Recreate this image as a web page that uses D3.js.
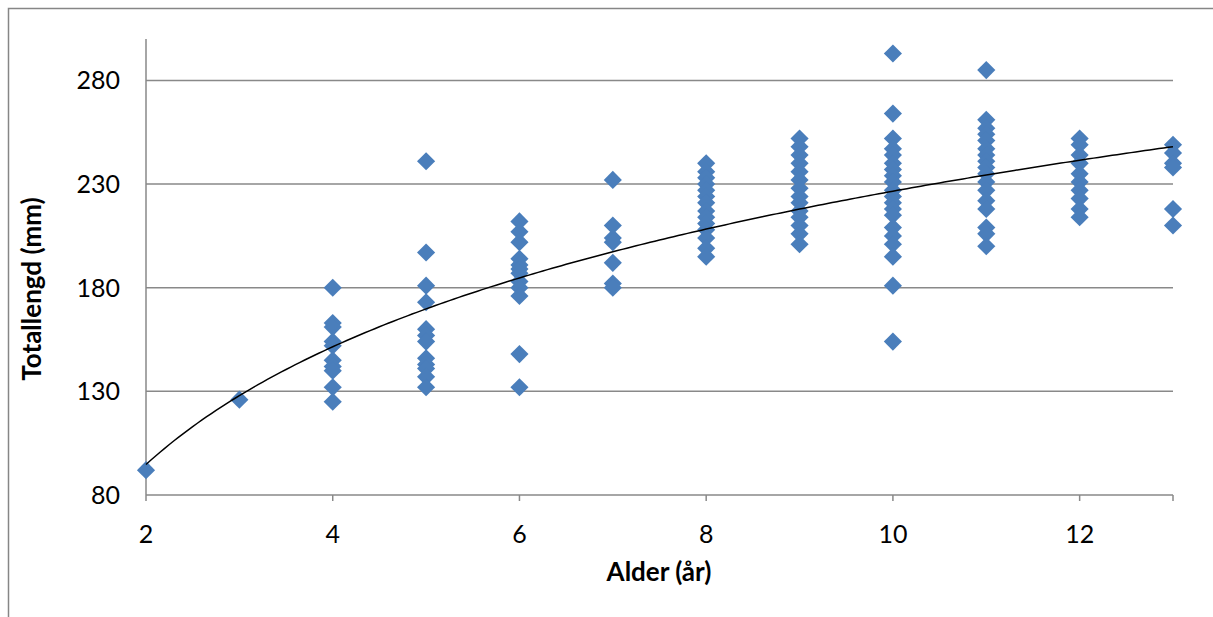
<!DOCTYPE html>
<html>
<head>
<meta charset="utf-8">
<script src="https://cdn.jsdelivr.net/npm/d3@7"></script>
<style>
  body { margin: 0; background: #fff; }
  svg text { font-family: Lato, 'Open Sans', sans-serif; fill: #000; }
</style>
</head>
<body>
<div id="chart"></div>
<script>
const ages = [2, 3, 4, 5, 6, 7, 8, 9, 10, 11, 12, 13]
const lengthsByAge = [
  [92],
  [126],
  [180, 163, 161, 154, 152, 145, 142, 140, 132, 125],
  [241, 197, 181, 173, 160, 157, 154, 146, 143, 141, 137, 132],
  [212, 207, 202, 194, 191, 189, 187, 183, 180, 176, 148, 132],
  [232, 210, 204, 202, 192, 182, 180],
  [240, 236, 233, 230, 227, 224, 221, 217, 214, 211, 208, 204, 199, 195],
  [252, 248, 244, 240, 236, 232, 228, 224, 221, 217, 214, 210, 206, 201],
  [293, 264, 252, 247, 244, 240, 237, 234, 231, 227, 224, 221, 218, 215, 209, 205, 201, 195, 181, 154],
  [285, 261, 257, 254, 251, 247, 244, 241, 238, 235, 231, 227, 222, 218, 209, 206, 200],
  [252, 249, 244, 240, 235, 231, 227, 223, 218, 214],
  [249, 245, 240, 238, 218, 210]
]
const xTicks = [2, 4, 6, 8, 10, 12]
const yTicks = [80, 130, 180, 230, 280]

const width = 1213
const height = 617
const margin = { left: 146, top: 39, right: 40, bottom: 122 }

const points = ages.flatMap((a, i) => lengthsByAge[i].map(v => ({ age: a, len: v })))

// logaritmisk trendlinje (minste kvadrat på ln(alder))
const lx = points.map(d => Math.log(d.age))
const mx = d3.mean(lx)
const my = d3.mean(points, d => d.len)
const b = d3.sum(points, (d, i) => (lx[i] - mx) * (d.len - my)) / d3.sum(lx, v => (v - mx) ** 2)
const a = my - b * mx

const svg = d3.select('#chart').append('svg')
  .attr('width', width)
  .attr('height', height)

// ytre ramme
svg.append('rect')
  .attr('x', 8.5).attr('y', 8.5)
  .attr('width', width + 20).attr('height', height + 20)
  .attr('fill', 'none')
  .attr('stroke', '#868686')
  .attr('stroke-width', 1.5)

const x = d3.scaleLinear().domain([2, 13]).range([margin.left, width - margin.right])
const y = d3.scaleLinear().domain([80, 300]).range([height - margin.bottom, margin.top])

const grid = '#898989'

svg.append('g')
  .selectAll('line')
  .data(yTicks.slice(1))
  .join('line')
  .attr('x1', x(2)).attr('x2', x(13))
  .attr('y1', d => y(d)).attr('y2', d => y(d))
  .attr('stroke', grid)
  .attr('stroke-width', 1.5)

// y-akse
svg.append('line')
  .attr('x1', x(2)).attr('x2', x(2))
  .attr('y1', y(300)).attr('y2', y(80))
  .attr('stroke', grid).attr('stroke-width', 1.5)

// x-akse
svg.append('line')
  .attr('x1', x(2)).attr('x2', x(13))
  .attr('y1', y(80)).attr('y2', y(80))
  .attr('stroke', grid).attr('stroke-width', 1.5)

svg.append('g')
  .selectAll('line')
  .data(xTicks.concat([13]))
  .join('line')
  .attr('x1', d => x(d)).attr('x2', d => x(d))
  .attr('y1', y(80)).attr('y2', y(80) + 6)
  .attr('stroke', grid).attr('stroke-width', 1.5)

svg.append('g')
  .selectAll('text')
  .data(yTicks)
  .join('text')
  .attr('x', x(2) - 26)
  .attr('y', d => y(d))
  .attr('dy', '0.36em')
  .attr('text-anchor', 'end')
  .attr('font-size', 25)
  .text(d => d)

svg.append('g')
  .selectAll('text')
  .data(xTicks)
  .join('text')
  .attr('x', d => x(d))
  .attr('y', y(80) + 48)
  .attr('text-anchor', 'middle')
  .attr('font-size', 25)
  .text(d => d)

svg.append('text')
  .attr('x', 659)
  .attr('y', 581)
  .attr('text-anchor', 'middle')
  .attr('font-size', 26)
  .attr('font-weight', 'bold')
  .text('Alder (år)')

svg.append('text')
  .attr('transform', 'translate(41, 289) rotate(-90)')
  .attr('text-anchor', 'middle')
  .attr('font-size', 26)
  .attr('font-weight', 'bold')
  .text('Totallengd (mm)')

const diamond = d3.symbol().type(d3.symbolDiamond2).size(210)

svg.append('g')
  .selectAll('path')
  .data(points)
  .join('path')
  .attr('transform', d => `translate(${x(d.age)},${y(d.len)})`)
  .attr('d', diamond)
  .attr('fill', '#4a7ebb')

const trend = d3.range(2, 13.001, 0.05).map(t => [t, a + b * Math.log(t)])
svg.append('path')
  .datum(trend)
  .attr('fill', 'none')
  .attr('stroke', '#000')
  .attr('stroke-width', 1.5)
  .attr('d', d3.line().x(d => x(d[0])).y(d => y(d[1])))
</script>
</body>
</html>
